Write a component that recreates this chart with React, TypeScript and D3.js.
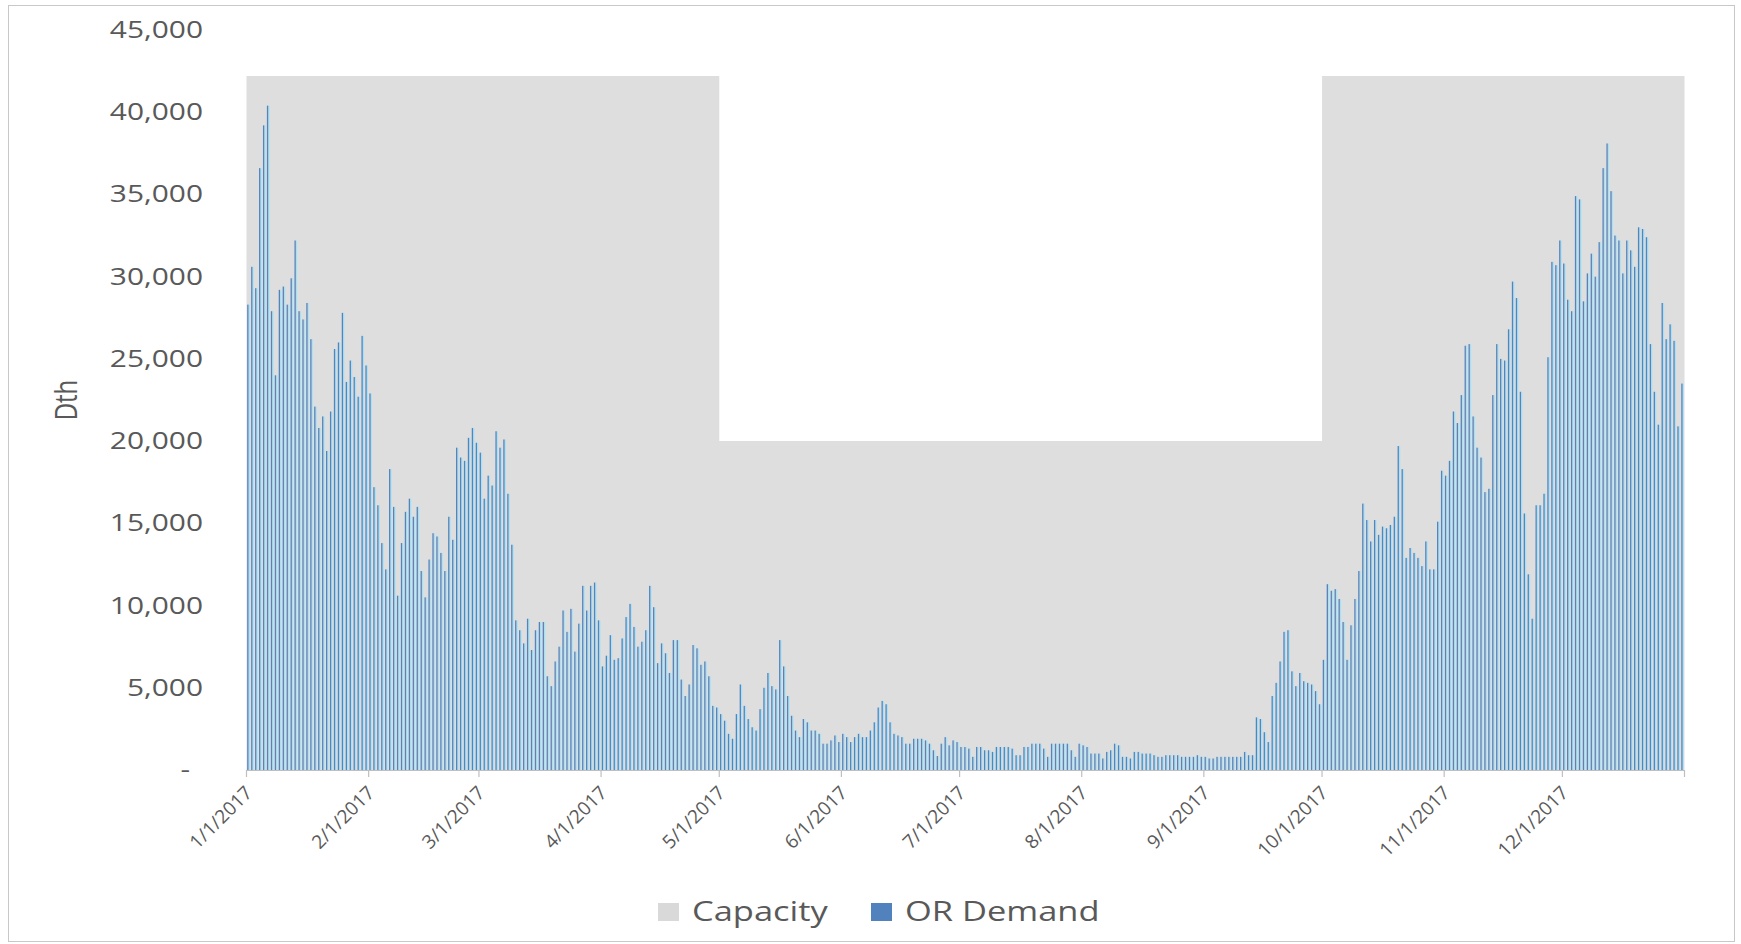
import React from "react";
import * as d3 from "d3";

// Daily OR Demand (Dth), 2017, one array per month
const jan = [28300, 30600, 29300, 36600, 39200, 40400, 27900, 24000, 29200, 29400, 28300, 29900, 32200, 27900, 27400, 28400, 26200, 22100, 20800, 21500, 19400, 21800, 25600, 26000, 27800, 23600, 24900, 23900, 22700, 26400, 24600];
const feb = [22900, 17200, 16100, 13800, 12200, 18300, 16000, 10600, 13800, 15700, 16500, 15400, 16000, 12100, 10500, 12800, 14400, 14200, 13200, 12100, 15400, 14000, 19600, 19000, 18800, 20200, 20800, 19900];
const mar = [19300, 16500, 17900, 17300, 20600, 19600, 20100, 16800, 13700, 9100, 8500, 7700, 9200, 7300, 8500, 9000, 9000, 5700, 5100, 6600, 7500, 9700, 8400, 9800, 7200, 8900, 11200, 9700, 11200, 11400, 9100];
const apr = [6300, 6950, 8200, 6700, 6800, 8000, 9300, 10100, 8700, 7500, 7800, 8500, 11200, 9900, 6500, 7700, 7100, 5900, 7900, 7900, 5500, 4500, 5200, 7600, 7400, 6400, 6600, 5700, 3900, 3800];
const may = [3400, 3000, 2200, 1900, 3400, 5200, 3900, 3100, 2600, 2400, 3700, 5000, 5900, 5100, 4900, 7900, 6300, 4500, 3300, 2400, 2000, 3100, 2900, 2400, 2400, 2200, 1600, 1600, 1800, 2100, 1700];
const jun = [2200, 2000, 1700, 2000, 2200, 2000, 2000, 2400, 2900, 3800, 4200, 4000, 2900, 2200, 2100, 2000, 1600, 1600, 1900, 1900, 1900, 1800, 1600, 1200, 850, 1600, 2000, 1500, 1800, 1700];
const jul = [1400, 1400, 1300, 800, 1400, 1400, 1200, 1200, 1100, 1400, 1400, 1400, 1400, 1300, 900, 900, 1400, 1400, 1600, 1600, 1600, 1300, 800, 1600, 1600, 1600, 1600, 1600, 1200, 800, 1600];
const aug = [1500, 1400, 1000, 1000, 1000, 700, 1100, 1200, 1600, 1500, 800, 800, 700, 1100, 1100, 1000, 1000, 1000, 900, 800, 800, 900, 900, 900, 900, 800, 800, 800, 800, 900, 800];
const sep = [800, 700, 700, 800, 800, 800, 800, 800, 800, 800, 1100, 900, 900, 3200, 3100, 2300, 1700, 4500, 5300, 6600, 8400, 8500, 6000, 5100, 5900, 5400, 5300, 5200, 4800, 4000];
const oct = [6700, 11300, 10900, 11000, 10400, 9000, 6700, 8800, 10400, 12100, 16200, 15200, 13900, 15200, 14300, 14800, 14700, 14900, 15400, 19700, 18300, 12900, 13500, 13200, 12900, 12400, 13900, 12200, 12200, 15100, 18200];
const nov = [17900, 18800, 21800, 21100, 22800, 25800, 25900, 21500, 19600, 19000, 16900, 17100, 22800, 25900, 25000, 24900, 26800, 29700, 28700, 23000, 15600, 11900, 9200, 16100, 16100, 16800, 25100, 30900, 30700, 32200];
const dec = [30800, 28600, 27900, 34900, 34700, 28500, 30200, 31400, 30000, 32100, 36600, 38100, 35200, 32500, 32200, 30200, 32200, 31600, 30600, 33000, 32900, 32400, 25900, 23000, 21000, 28400, 26200, 27100, 26100, 20900, 23500];

// Capacity (Dth) by month
const capacityByMonth = [42200, 42200, 42200, 42200, 20000, 20000, 20000, 20000, 20000, 42200, 42200, 42200];

const monthLabels = ["1/1/2017", "2/1/2017", "3/1/2017", "4/1/2017", "5/1/2017", "6/1/2017", "7/1/2017", "8/1/2017", "9/1/2017", "10/1/2017", "11/1/2017", "12/1/2017"];
const yTicks = [0, 5000, 10000, 15000, 20000, 25000, 30000, 35000, 40000, 45000];

const months = [jan, feb, mar, apr, may, jun, jul, aug, sep, oct, nov, dec];
const demand = months.flat();
const monthStarts = months.map((_, i) => months.slice(0, i).reduce((s, m) => s + m.length, 0));
const nDays = demand.length;

const W = 1741;
const H = 944;
const X0 = 246.5;
const X1 = 1684.5;
const Y0 = 770;
const YTOP = 30;
const TEXT = "#595959";
const FONT = "'Open Sans', 'Noto Sans', sans-serif";
const SX = 1.3;

export default function App() {
  const x = d3.scaleLinear().domain([0, nDays]).range([X0, X1]);
  const y = d3.scaleLinear().domain([0, 45000]).range([Y0, YTOP]);

  const capPoints: [number, number][] = capacityByMonth.map((c, i) => [monthStarts[i], c]);
  capPoints.push([nDays, capacityByMonth[capacityByMonth.length - 1]]);
  const capArea = d3
    .area<[number, number]>()
    .x((d) => x(d[0]))
    .y0(y(0))
    .y1((d) => y(d[1]))
    .curve(d3.curveStepAfter)(capPoints) as string;

  const fmt = d3.format(",");

  return (
    <svg
      width={W}
      height={H}
      style={{ position: "absolute", left: 0, top: 0, background: "#fff" }}
      fontFamily={FONT}
    >
      <rect x={8.5} y={5.5} width={1726} height={936} fill="#fff" stroke="#c8c8c8" strokeWidth={1} />

      <path d={capArea} fill="#dedede" />

      <g>
        {demand.map((v, i) => {
          const left = x(i);
          const top = y(v);
          const h = y(0) - top;
          return (
            <g key={i}>
              <rect x={left + 1.9} y={top} width={1.4} height={h} fill="#a6e2f7" />
              <rect x={left + 0.7} y={top} width={1.3} height={h} fill="#5883b9" />
            </g>
          );
        })}
      </g>

      {/* x axis */}
      <line x1={X0} x2={X1} y1={Y0 + 0.5} y2={Y0 + 0.5} stroke="#bfbfbf" strokeWidth={1.2} />
      {[...monthStarts, nDays].map((d, i) => (
        <line key={i} x1={x(d)} x2={x(d)} y1={Y0} y2={Y0 + 7} stroke="#bfbfbf" strokeWidth={1.2} />
      ))}
      {monthLabels.map((lab, i) => (
        <text
          key={lab}
          transform={`translate(${x(monthStarts[i]) + 7},${Y0 + 24}) rotate(-45)`}
          textAnchor="end"
          fontSize={19}
          fill={TEXT}
        >
          {lab}
        </text>
      ))}

      {/* y axis labels */}
      {yTicks.map((t) => (
        <text
          key={t}
          transform={`translate(${t === 0 ? 190 : 203},${y(t) + 8}) scale(${SX},1)`}
          textAnchor="end"
          fontSize={23}
          fill={TEXT}
        >
          {t === 0 ? "-" : fmt(t)}
        </text>
      ))}

      <text transform={`translate(77,400) scale(${SX},1) rotate(-90)`} textAnchor="middle" fontSize={24} fill={TEXT}>
        Dth
      </text>

      {/* legend */}
      <rect x={658} y={903} width={21} height={18} fill="#d9d9d9" />
      <text transform={`translate(692,921) scale(${SX},1)`} fontSize={26.5} fill={TEXT}>
        Capacity
      </text>
      <rect x={871} y={903} width={21} height={18} fill="#5182be" />
      <text transform={`translate(905,921) scale(${SX},1)`} fontSize={26.5} fill={TEXT}>
        OR Demand
      </text>
    </svg>
  );
}
